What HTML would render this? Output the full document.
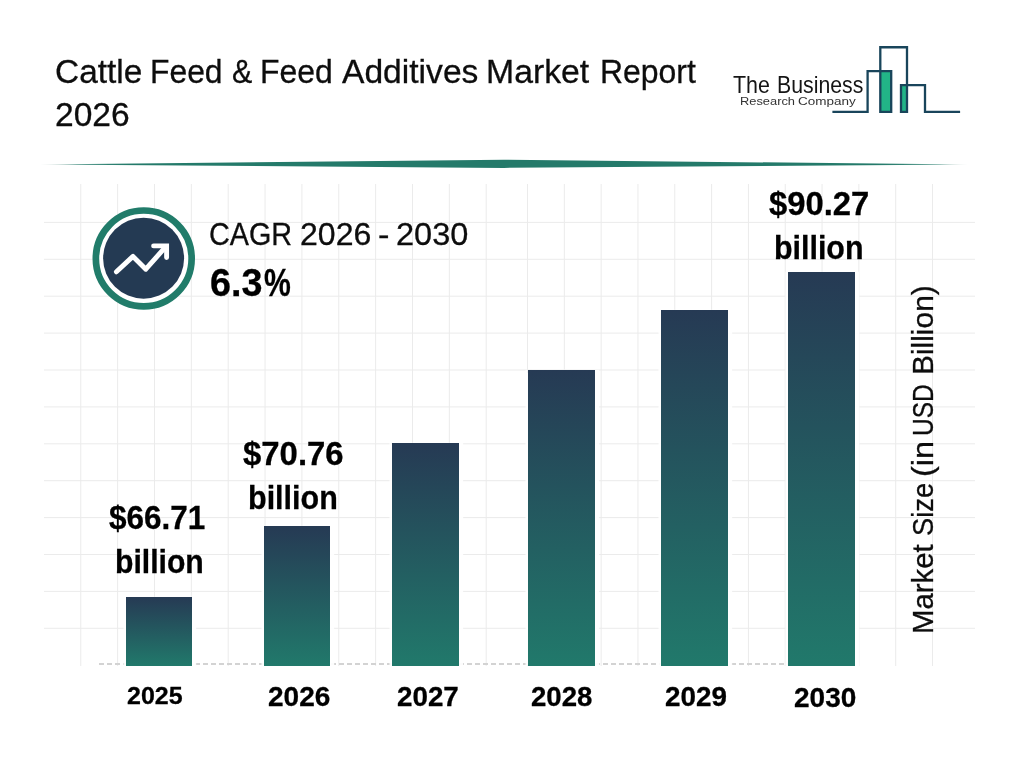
<!DOCTYPE html>
<html lang="en">
<head>
<meta charset="utf-8">
<title>Cattle Feed &amp; Feed Additives Market Report 2026</title>
<style>
  html, body { margin: 0; padding: 0; background: #fff; }
  body { width: 1024px; height: 768px; position: relative; overflow: hidden;
         font-family: "Liberation Sans", sans-serif; }
  .t { position: absolute; white-space: nowrap; line-height: 1; transform-origin: 0 0;
       font-family: "Liberation Sans", sans-serif; }
  .grid, .logo, .divider, .icon { position: absolute; left: 0; top: 0; }
  .bar { position: absolute; width: 66.6px;
         background: linear-gradient(to bottom, #263a54 0%, #21796b 100%);
         box-shadow: -3.5px 0 1px 0 rgba(255,255,255,0.92), 4px 0 1px 0 rgba(255,255,255,0.92); }
  .axis { position: absolute; left: 99px; top: 663.3px; width: 756px; height: 2px;
          background: repeating-linear-gradient(to right, #d3d3d3 0 5.2px, transparent 5.2px 8px); }
</style>
</head>
<body>

<header class="report-header">
<div class="title">
  <span class="t" style="left:55.20px;top:53.75px;font-size:34.00px;font-weight:400;color:#0d0d0d;transform:scaleX(0.9826);-webkit-text-stroke:0.30px #0d0d0d">Cattle</span>
  <span class="t" style="left:150.49px;top:53.75px;font-size:34.00px;font-weight:400;color:#0d0d0d;transform:scaleX(0.9363);-webkit-text-stroke:0.30px #0d0d0d">Feed</span>
  <span class="t" style="left:231.63px;top:53.75px;font-size:34.00px;font-weight:400;color:#0d0d0d;transform:scaleX(0.8921);-webkit-text-stroke:0.30px #0d0d0d">&amp;</span>
  <span class="t" style="left:260.08px;top:53.75px;font-size:34.00px;font-weight:400;color:#0d0d0d;transform:scaleX(0.9391);-webkit-text-stroke:0.30px #0d0d0d">Feed</span>
  <span class="t" style="left:341.53px;top:53.75px;font-size:34.00px;font-weight:400;color:#0d0d0d;transform:scaleX(0.9885);-webkit-text-stroke:0.30px #0d0d0d">Additives</span>
  <span class="t" style="left:486.43px;top:53.75px;font-size:34.00px;font-weight:400;color:#0d0d0d;transform:scaleX(0.9932);-webkit-text-stroke:0.30px #0d0d0d">Market</span>
  <span class="t" style="left:599.88px;top:53.75px;font-size:34.00px;font-weight:400;color:#0d0d0d;transform:scaleX(0.9392);-webkit-text-stroke:0.30px #0d0d0d">Report</span>
  <span class="t" style="left:55.11px;top:97.00px;font-size:34.00px;font-weight:400;color:#0d0d0d;transform:scaleX(0.9871);-webkit-text-stroke:0.30px #0d0d0d">2026</span>
</div>
<div class="brand-block">
<!-- company logo -->
<svg class="logo" width="1024" height="768" viewBox="0 0 1024 768" aria-hidden="true">
  <rect x="880.3" y="71.2" width="10.9" height="40.7" fill="#22b487"/>
  <rect x="901" y="85.2" width="6" height="26.7" fill="#22b487"/>
  <g fill="none" stroke="#19455b" stroke-width="2.3" stroke-linejoin="miter" stroke-linecap="butt">
    <polyline points="832.4,111.9 867.6,111.9 867.6,71.2 891.2,71.2 891.2,111.9 880.3,111.9 880.3,47.25 907,47.25 907,111.9 901,111.9 901,85.2 925,85.2 925,111.9 960.1,111.9"/>
  </g>
</svg>
<div class="brand">
  <span class="t" style="left:733.02px;top:73.60px;font-size:23.40px;font-weight:400;color:#151515;transform:scaleX(0.9162)">The</span>
  <span class="t" style="left:776.55px;top:73.60px;font-size:23.40px;font-weight:400;color:#151515;transform:scaleX(0.9093)">Business</span>
</div>
<div class="brand-sub">
  <span class="t" style="left:739.55px;top:95.90px;font-size:11.50px;font-weight:400;color:#333;transform:scaleX(1.1172)">Research</span>
  <span class="t" style="left:798.22px;top:95.90px;font-size:11.50px;font-weight:400;color:#333;transform:scaleX(1.1725)">Company</span>
</div>
</div>
<!-- header divider -->
<svg class="divider" width="1024" height="768" viewBox="0 0 1024 768" aria-hidden="true">
  <defs>
    <linearGradient id="dv" x1="0" x2="1" y1="0" y2="0">
      <stop offset="0" stop-color="#6f8f88" stop-opacity="0.35"/>
      <stop offset="0.04" stop-color="#2a7f6f" stop-opacity="0.9"/>
      <stop offset="0.1" stop-color="#247a6a"/>
      <stop offset="0.9" stop-color="#247a6a"/>
      <stop offset="0.97" stop-color="#2a7f6f" stop-opacity="0.85"/>
      <stop offset="1" stop-color="#6f8f88" stop-opacity="0.3"/>
    </linearGradient>
  </defs>
  <polygon points="40,164.4 504,159.8 968,164.4 504,167.9" fill="url(#dv)"/>
</svg>
</header>

<main class="chart">
<!-- background grid -->
<svg class="grid" width="1024" height="768" viewBox="0 0 1024 768" aria-hidden="true">
  <g stroke="#ebebeb" stroke-width="1" fill="none">
    <line x1="80.75" y1="184" x2="80.75" y2="666"/>
    <line x1="117.61" y1="184" x2="117.61" y2="666"/>
    <line x1="154.47" y1="184" x2="154.47" y2="666"/>
    <line x1="191.33" y1="184" x2="191.33" y2="666"/>
    <line x1="228.19" y1="184" x2="228.19" y2="666"/>
    <line x1="265.05" y1="184" x2="265.05" y2="666"/>
    <line x1="301.91" y1="184" x2="301.91" y2="666"/>
    <line x1="338.77" y1="184" x2="338.77" y2="666"/>
    <line x1="375.63" y1="184" x2="375.63" y2="666"/>
    <line x1="412.49" y1="184" x2="412.49" y2="666"/>
    <line x1="449.35" y1="184" x2="449.35" y2="666"/>
    <line x1="486.21" y1="184" x2="486.21" y2="666"/>
    <line x1="527.50" y1="184" x2="527.50" y2="666"/>
    <line x1="564.32" y1="184" x2="564.32" y2="666"/>
    <line x1="601.14" y1="184" x2="601.14" y2="666"/>
    <line x1="637.96" y1="184" x2="637.96" y2="666"/>
    <line x1="674.78" y1="184" x2="674.78" y2="666"/>
    <line x1="711.60" y1="184" x2="711.60" y2="666"/>
    <line x1="748.42" y1="184" x2="748.42" y2="666"/>
    <line x1="785.24" y1="184" x2="785.24" y2="666"/>
    <line x1="822.06" y1="184" x2="822.06" y2="666"/>
    <line x1="858.88" y1="184" x2="858.88" y2="666"/>
    <line x1="895.70" y1="184" x2="895.70" y2="666"/>
    <line x1="932.52" y1="184" x2="932.52" y2="666"/>
    <line x1="44" y1="222.40" x2="975" y2="222.40"/>
    <line x1="44" y1="259.30" x2="975" y2="259.30"/>
    <line x1="44" y1="296.20" x2="975" y2="296.20"/>
    <line x1="44" y1="333.10" x2="975" y2="333.10"/>
    <line x1="44" y1="370.00" x2="975" y2="370.00"/>
    <line x1="44" y1="406.90" x2="975" y2="406.90"/>
    <line x1="44" y1="443.80" x2="975" y2="443.80"/>
    <line x1="44" y1="480.70" x2="975" y2="480.70"/>
    <line x1="44" y1="517.60" x2="975" y2="517.60"/>
    <line x1="44" y1="554.50" x2="975" y2="554.50"/>
    <line x1="44" y1="591.40" x2="975" y2="591.40"/>
    <line x1="44" y1="628.30" x2="975" y2="628.30"/>
  </g>
</svg>

<section class="cagr-badge">
<!-- CAGR icon -->
<svg class="icon" width="1024" height="768" viewBox="0 0 1024 768" aria-hidden="true">
  <circle cx="143.75" cy="258.4" r="47.9" fill="#fff" stroke="#217c6a" stroke-width="6.7"/>
  <circle cx="143.6" cy="258.2" r="40.5" fill="#243a53"/>
  <g fill="none" stroke="#fff" stroke-width="4.9" stroke-linecap="round">
    <polyline stroke-linejoin="round" points="116.4,271.8 133,256.4 145.8,269.2 165.6,246.9"/>
    <polyline stroke-linejoin="miter" points="153.6,245.9 166.6,245.9 166.6,257.6"/>
  </g>
</svg>
<div class="cagr-label">
  <span class="t" style="left:209.24px;top:218.50px;font-size:31.80px;font-weight:400;color:#0d0d0d;transform:scaleX(0.9044);-webkit-text-stroke:0.30px #0d0d0d">CAGR</span>
  <span class="t" style="left:300.29px;top:218.50px;font-size:31.80px;font-weight:400;color:#0d0d0d;transform:scaleX(1.0081);-webkit-text-stroke:0.30px #0d0d0d">2026</span>
  <span class="t" style="left:378.47px;top:218.50px;font-size:31.80px;font-weight:400;color:#0d0d0d;transform:scaleX(1.0814);-webkit-text-stroke:0.30px #0d0d0d">-</span>
  <span class="t" style="left:395.96px;top:218.50px;font-size:31.80px;font-weight:400;color:#0d0d0d;transform:scaleX(1.0234);-webkit-text-stroke:0.30px #0d0d0d">2030</span>
</div>
<div class="cagr-value">
  <span class="t" style="left:210.12px;top:263.80px;font-size:38.00px;font-weight:700;color:#000;transform:scaleX(0.9927);-webkit-text-stroke:0.30px #000">6.3</span><span class="t" style="left:263.75px;top:263.80px;font-size:38.00px;font-weight:700;color:#000;transform:scaleX(0.7944);-webkit-text-stroke:0.30px #000">%</span>
</div>
</section>

<section class="plot">
<!-- bars -->
<div class="axis"></div>
<div class="bar" style="left:125.7px; top:597px;   height:69px;"></div>
<div class="bar" style="left:263.8px; top:526.3px; height:139.7px;"></div>
<div class="bar" style="left:392.3px; top:442.7px; height:223.3px;"></div>
<div class="bar" style="left:528.2px; top:370.2px; height:295.8px;"></div>
<div class="bar" style="left:661.1px; top:310px;   height:356px;"></div>
<div class="bar" style="left:788.4px; top:272.3px; height:393.7px;"></div>
<div class="bar-value">
  <span class="t" style="left:109.38px;top:501.90px;font-size:32.80px;font-weight:700;color:#000;transform:scaleX(0.9599);-webkit-text-stroke:0.30px #000">$66.71</span>
  <span class="t" style="left:114.61px;top:545.80px;font-size:32.80px;font-weight:700;color:#000;transform:scaleX(0.9197);-webkit-text-stroke:0.30px #000">billion</span>
  <span class="t" style="left:242.67px;top:437.80px;font-size:32.80px;font-weight:700;color:#000;transform:scaleX(1.0031);-webkit-text-stroke:0.30px #000">$70.76</span>
  <span class="t" style="left:247.59px;top:481.70px;font-size:32.80px;font-weight:700;color:#000;transform:scaleX(0.9300);-webkit-text-stroke:0.30px #000">billion</span>
  <span class="t" style="left:769.27px;top:188.00px;font-size:32.80px;font-weight:700;color:#000;transform:scaleX(0.9986);-webkit-text-stroke:0.30px #000">$90.27</span>
  <span class="t" style="left:773.90px;top:231.80px;font-size:32.80px;font-weight:700;color:#000;transform:scaleX(0.9267);-webkit-text-stroke:0.30px #000">billion</span>
</div>
<div class="year">
  <span class="t" style="left:127.18px;top:683.80px;font-size:24.70px;font-weight:700;color:#000;transform:scaleX(1.0126);-webkit-text-stroke:0.30px #000">2025</span>
  <span class="t" style="left:267.78px;top:682.80px;font-size:27.30px;font-weight:700;color:#000;transform:scaleX(1.0263);-webkit-text-stroke:0.30px #000">2026</span>
  <span class="t" style="left:397.44px;top:682.80px;font-size:27.30px;font-weight:700;color:#000;transform:scaleX(1.0173);-webkit-text-stroke:0.30px #000">2027</span>
  <span class="t" style="left:531.24px;top:682.80px;font-size:27.30px;font-weight:700;color:#000;transform:scaleX(1.0111);-webkit-text-stroke:0.30px #000">2028</span>
  <span class="t" style="left:664.54px;top:682.80px;font-size:27.30px;font-weight:700;color:#000;transform:scaleX(1.0191);-webkit-text-stroke:0.30px #000">2029</span>
  <span class="t" style="left:793.78px;top:683.90px;font-size:27.30px;font-weight:700;color:#000;transform:scaleX(1.0253);-webkit-text-stroke:0.30px #000">2030</span>
</div>
<div class="axis-title">
  <span class="t" style="left:907.80px;top:633.66px;font-size:30.00px;font-weight:400;color:#0d0d0d;transform:rotate(-90deg) scaleX(0.9780);-webkit-text-stroke:0.30px #0d0d0d">Market</span>
  <span class="t" style="left:907.80px;top:536.04px;font-size:30.00px;font-weight:400;color:#0d0d0d;transform:rotate(-90deg) scaleX(0.9090);-webkit-text-stroke:0.30px #0d0d0d">Size</span>
  <span class="t" style="left:907.80px;top:476.71px;font-size:30.00px;font-weight:400;color:#0d0d0d;transform:rotate(-90deg) scaleX(1.0801);-webkit-text-stroke:0.30px #0d0d0d">(in</span>
  <span class="t" style="left:907.80px;top:435.64px;font-size:30.00px;font-weight:400;color:#0d0d0d;transform:rotate(-90deg) scaleX(0.8147);-webkit-text-stroke:0.30px #0d0d0d">USD</span>
  <span class="t" style="left:907.80px;top:375.15px;font-size:30.00px;font-weight:400;color:#0d0d0d;transform:rotate(-90deg) scaleX(0.9964);-webkit-text-stroke:0.30px #0d0d0d">Billion)</span>
</div>
</section>
</main>

</body>
</html>
